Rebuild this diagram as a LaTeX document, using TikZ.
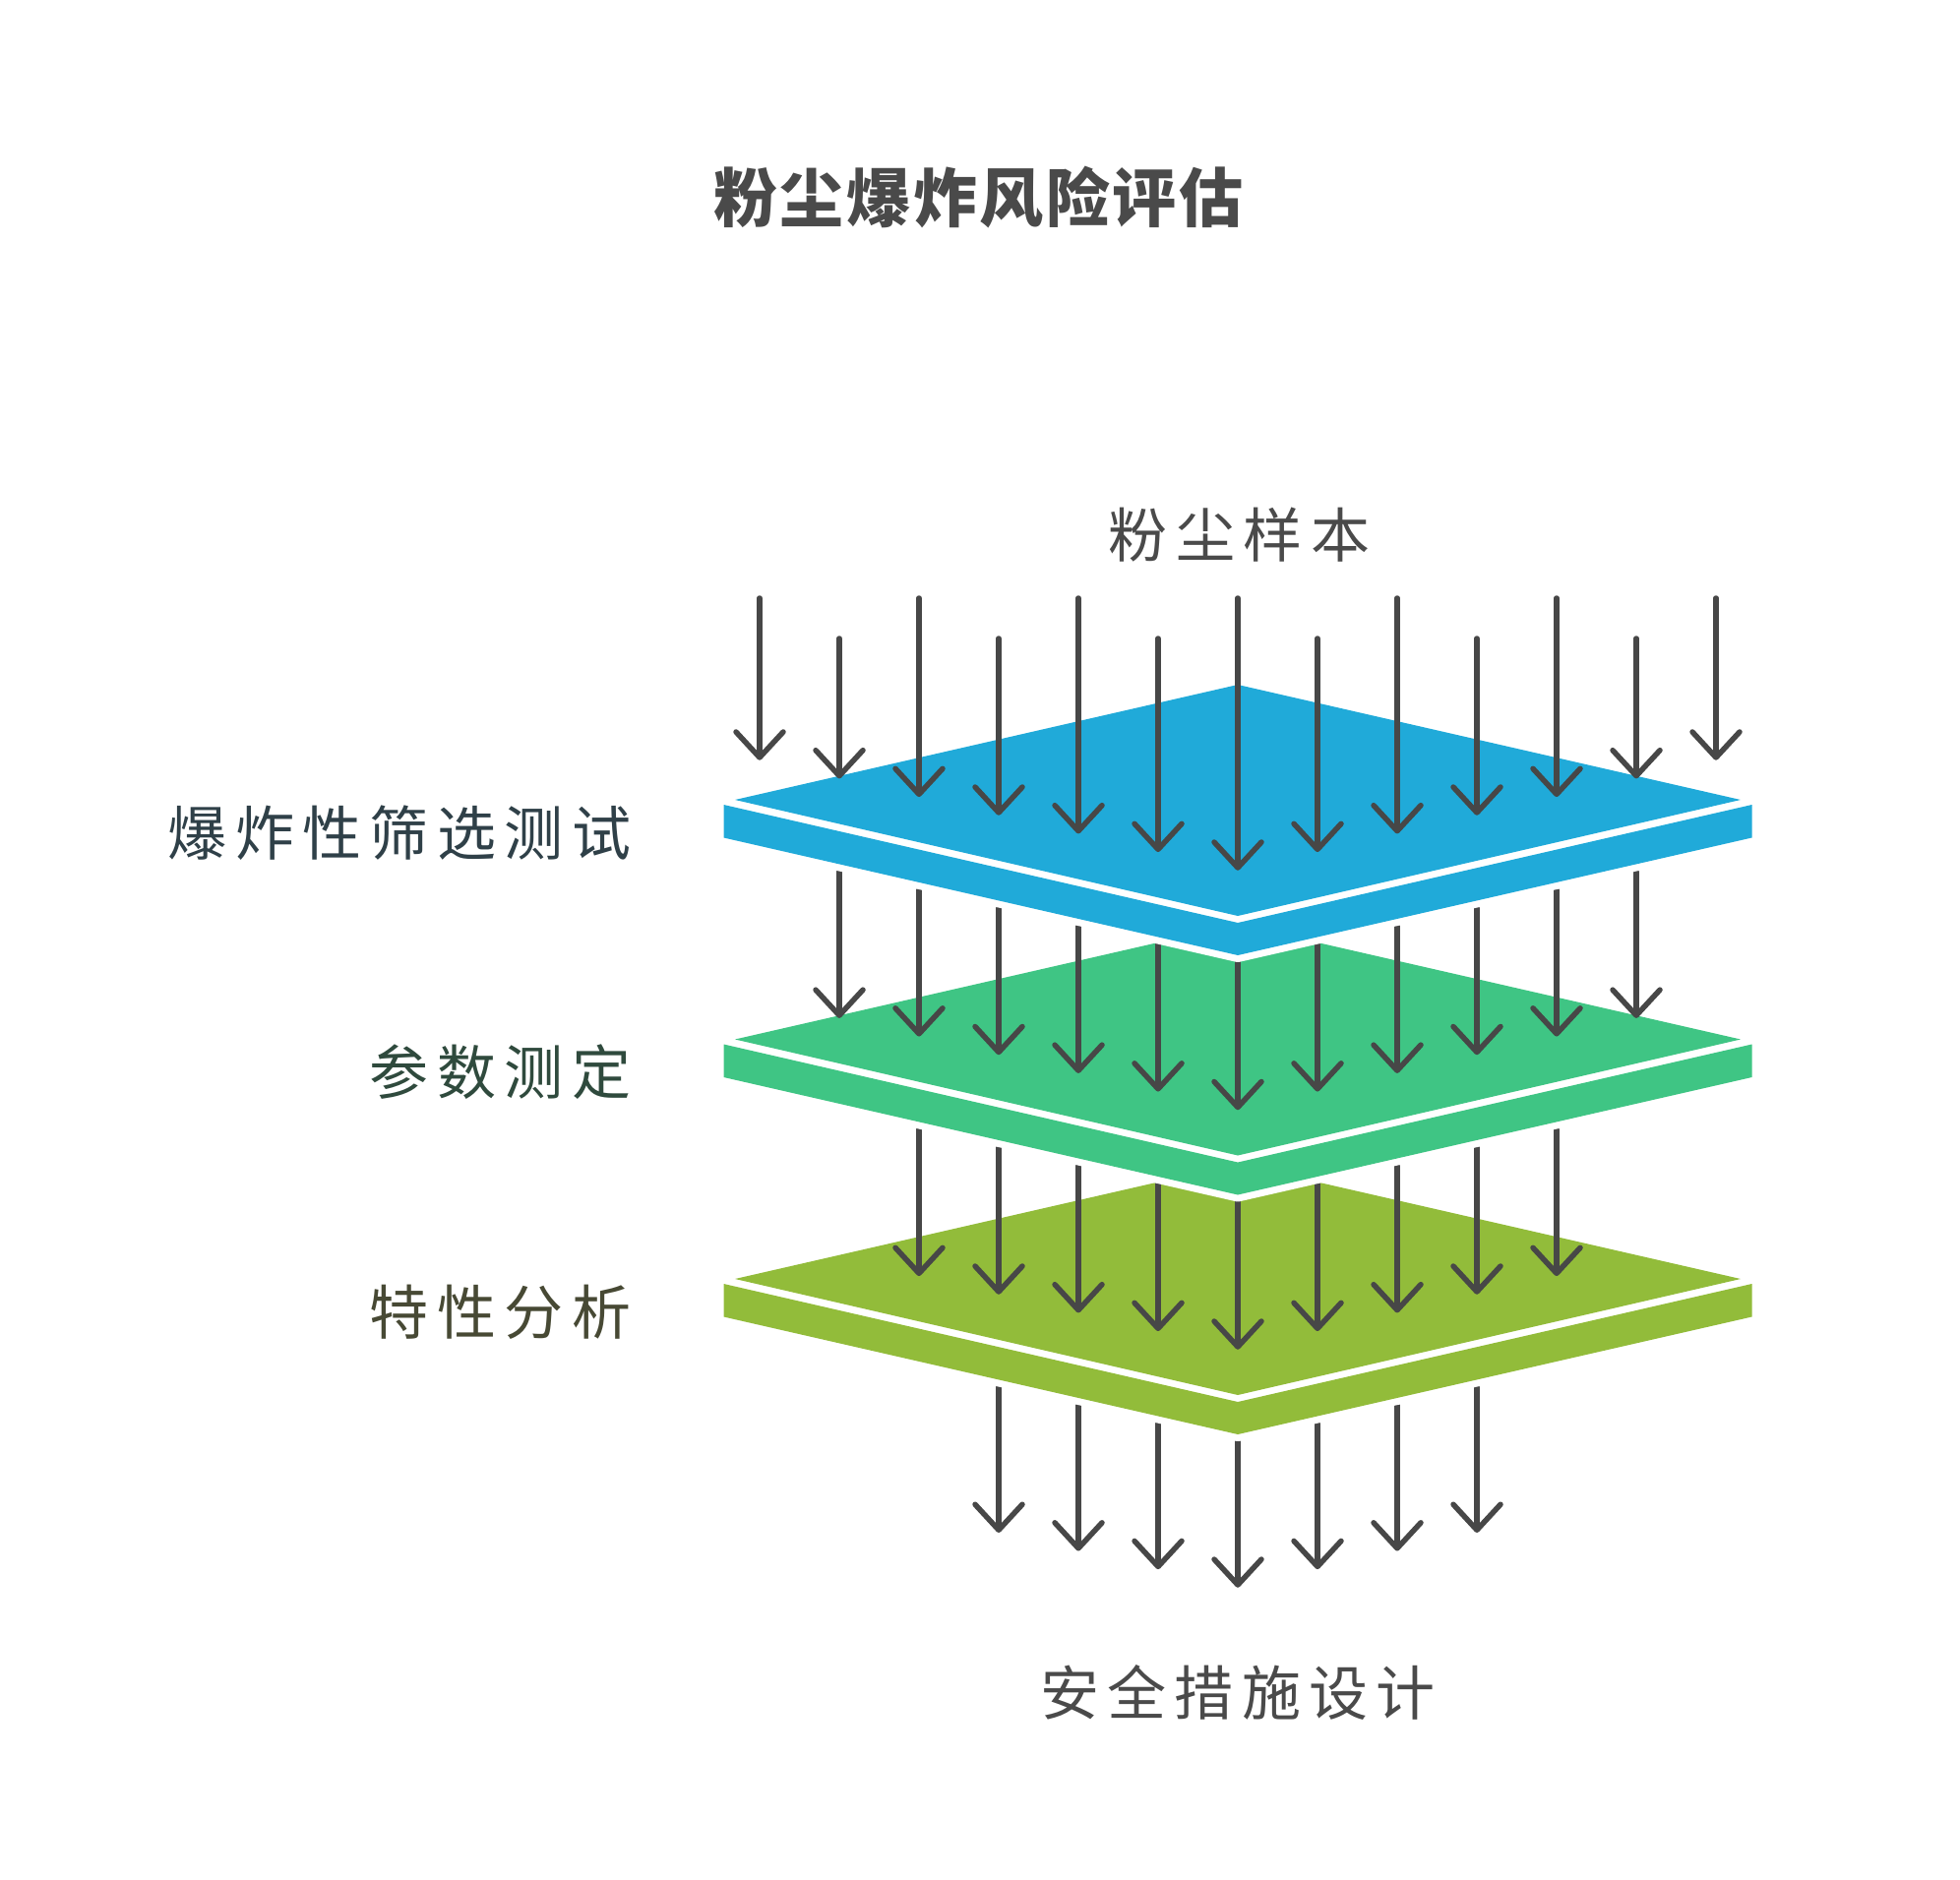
\documentclass[tikz,border=0pt]{standalone}
\usepackage{fontspec}
\newfontfamily\cjk{Noto Sans CJK SC}[LetterSpace=14]
\newfontfamily\cjktitle{Noto Sans CJK SC}[LetterSpace=4]
\definecolor{layerblue}{HTML}{20AAD9}
\definecolor{layergreen}{HTML}{3FC584}
\definecolor{layerolive}{HTML}{92BC3A}
\definecolor{arrowgray}{HTML}{474747}
\definecolor{textgray}{HTML}{4A4A4A}
\definecolor{labelblue}{HTML}{2F4048}
\definecolor{labelgreen}{HTML}{2F4A3D}
\definecolor{labelolive}{HTML}{474934}
\tikzset{
  arr/.style={line width=2.75pt, draw=arrowgray, line cap=round, line join=round},
  txt/.style={inner sep=0pt, font=\cjk\fontsize{30pt}{36pt}\selectfont, text=textgray},
  lbl/.style={inner sep=0pt, anchor=east, font=\cjk\fontsize{30pt}{36pt}\selectfont},
  ttl/.style={inner sep=0pt, font=\cjktitle\bfseries\fontsize{32.5pt}{38pt}\selectfont, text=textgray}
}
\newcommand\slablayer[2]{%
  \begin{scope}[shift={(0,#1)}]
    \fill[white, draw=white, line width=7pt, line join=round]
      (1258,696) -- (1780.5,816) -- (1780.5,851.5) -- (1258,971) -- (735.5,851.5) -- (735.5,816) -- cycle;
    \fill[#2] (1258,696) -- (1769,813) -- (1258,931) -- (747,813) -- cycle;
    \fill[#2] (735.5,818) -- (1258,938) -- (1780.5,818) -- (1780.5,851.5) -- (1258,971) -- (735.5,851.5) -- cycle;
  \end{scope}}
\newcommand\dnarrowat[3]{%
  \draw[arr] (#1,#2) -- (#1,{#3-3});
  \draw[arr] ({#1-24},{#3-26}) -- (#1,#3) -- ({#1+24},{#3-26});}
\begin{document}
\begin{tikzpicture}[x=0.5pt,y=-0.5pt]
\useasboundingbox[fill=white] (0,0) rectangle (1992,1911);

% bottom arrows (below olive layer)
\foreach \k in {-3,...,3}{
  \pgfmathsetmacro\xx{1258+81*\k}
  \pgfmathsetmacro\ys{1465.5-18.5*abs(\k)}
  \pgfmathsetmacro\yt{1611-18.6*abs(\k)}
  \dnarrowat{\xx}{\ys}{\yt}
}
% olive layer
\slablayer{487}{layerolive}
\foreach \k in {-4,...,4}{
  \pgfmathsetmacro\xx{1258+81*\k}
  \pgfmathsetmacro\ys{1222-18.5*abs(\k)}
  \pgfmathsetmacro\yt{1369-18.67*abs(\k)}
  \dnarrowat{\xx}{\ys}{\yt}
}
% green layer
\slablayer{243.5}{layergreen}
\foreach \k in {-5,...,5}{
  \pgfmathsetmacro\xx{1258+81*\k}
  \pgfmathsetmacro\ys{978.5-18.5*abs(\k)}
  \pgfmathsetmacro\yt{1125.5-18.67*abs(\k)}
  \dnarrowat{\xx}{\ys}{\yt}
}
% blue layer
\slablayer{0}{layerblue}
\foreach \k in {-6,...,6}{
  \pgfmathsetmacro\xx{1258+81*\k}
  \pgfmathsetmacro\ys{mod(abs(\k),2)==0 ? 608 : 649}
  \pgfmathsetmacro\yt{882-18.67*abs(\k)}
  \dnarrowat{\xx}{\ys}{\yt}
}

% texts
\node[ttl] (title) at (994.5,201) {粉尘爆炸风险评估};
\node[txt] (sample) at (1259.5,544) {粉尘样本};
\node[lbl, text=labelblue] (l1) at (641.5,847) {爆炸性筛选测试};
\node[lbl, text=labelgreen] (l2) at (641.5,1090) {参数测定};
\node[lbl, text=labelolive] (l3) at (641.5,1334) {特性分析};
\node[txt] (safe) at (1258,1720) {安全措施设计};
\end{tikzpicture}
\end{document}
